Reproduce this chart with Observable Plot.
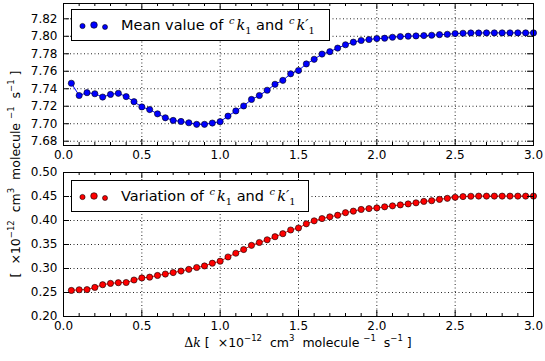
<!DOCTYPE html>
<html><head><meta charset="utf-8">
<script src="https://cdn.jsdelivr.net/npm/d3@7"></script>
<script src="https://cdn.jsdelivr.net/npm/@observablehq/plot@0.6"></script>
<style>
body{margin:0;background:#fff;}
#wrap{position:relative;width:545px;height:361px;font-family:"DejaVu Sans",sans-serif;color:#000;overflow:hidden;}
.abs{position:absolute;white-space:nowrap;}
.leg{position:absolute;border:1px solid #000;background:#fff;box-sizing:border-box;font-size:14.5px;white-space:nowrap;}
.leg svg{position:absolute;left:0;top:0;}
.leg .t{position:absolute;left:49px;top:50%;transform:translateY(-50%);}
.m{font-family:"DejaVu Serif",serif;font-style:italic;}
sup,sub{font-size:68%;line-height:0;font-style:normal;}
sup.i{font-style:italic;margin-right:2px;margin-left:1px;}
.lab{font-size:12.5px;}
</style></head>
<body><div id="wrap"></div>
<script>
const dk = [0.05,0.10,0.15,0.20,0.25,0.30,0.35,0.40,0.45,0.50,
            0.55,0.60,0.65,0.70,0.75,0.80,0.85,0.90,0.95,1.00,
            1.05,1.10,1.15,1.20,1.25,1.30,1.35,1.40,1.45,1.50,
            1.55,1.60,1.65,1.70,1.75,1.80,1.85,1.90,1.95,2.00,
            2.05,2.10,2.15,2.20,2.25,2.30,2.35,2.40,2.45,2.50,
            2.55,2.60,2.65,2.70,2.75,2.80,2.85,2.90,2.95,3.00];
const meanVals = [7.7463,7.7323,7.7355,7.7343,7.7305,7.7335,7.7348,7.7310,7.7252,7.7192,
                  7.7162,7.7113,7.7068,7.7038,7.7026,7.7011,7.6993,7.6993,7.7008,7.7024,
                  7.7087,7.7146,7.7203,7.7278,7.7323,7.7383,7.7451,7.7496,7.7571,7.7609,
                  7.7684,7.7737,7.7797,7.7824,7.7865,7.7903,7.7933,7.7952,7.7963,7.7974,
                  7.7978,7.7989,7.7997,7.8001,7.8004,7.8008,7.8012,7.8019,7.8023,7.8031,
                  7.8035,7.8038,7.8038,7.8039,7.8039,7.8039,7.8039,7.8039,7.8039,7.8039];
const varVals = [0.2543,0.2557,0.2560,0.2606,0.2662,0.2690,0.2704,0.2708,0.2760,0.2803,
                 0.2820,0.2855,0.2884,0.2915,0.2947,0.2982,0.3021,0.3053,0.3110,0.3152,
                 0.3240,0.3318,0.3395,0.3482,0.3542,0.3598,0.3662,0.3725,0.3802,0.3844,
                 0.3931,0.3993,0.4040,0.4076,0.4110,0.4163,0.4195,0.4230,0.4248,0.4262,
                 0.4285,0.4305,0.4325,0.4345,0.4368,0.4398,0.4412,0.4440,0.4462,0.4484,
                 0.4498,0.4505,0.4508,0.4508,0.4508,0.4508,0.4508,0.4508,0.4508,0.4508];
const xTicks = [0.0,0.5,1.0,1.5,2.0,2.5,3.0];
const xMinor = [0.1,0.2,0.3,0.4,0.6,0.7,0.8,0.9,1.1,1.2,1.3,1.4,1.6,1.7,1.8,1.9,2.1,2.2,2.3,2.4,2.6,2.7,2.8,2.9];
const meanTicks = [7.68,7.70,7.72,7.74,7.76,7.78,7.80,7.82];
const varTicks = [0.20,0.25,0.30,0.35,0.40,0.45,0.50];
const meanDomain = [7.6751,7.8375];
const varDomain = [0.20,0.50];
const blue = "#0000ff", red = "#ff0000";

const W = 545, ML = 63, MR = 12;
function panel(vals, yDomain, yTicks, color, height, marginTop, marginBottom) {
  const innerH = height - marginTop - marginBottom, innerW = W - ML - MR;
  const rows = dk.map((x, i) => ({x, y: vals[i]}));
  const grid = {stroke: "#000", strokeOpacity: 0.85, strokeDasharray: "1,2.5", strokeWidth: 1};
  return Plot.plot({
    width: W, height, marginLeft: ML, marginRight: MR, marginTop, marginBottom,
    style: {fontFamily: "DejaVu Sans", fontSize: "12px", background: "white", overflow: "visible", color: "#000"},
    x: {domain: [0, 3]},
    y: {domain: yDomain},
    marks: [
      Plot.gridX(xTicks, grid),
      Plot.gridY(yTicks, grid),
      Plot.line(rows, {x: "x", y: "y", stroke: color, strokeWidth: 1}),
      Plot.dot(rows, {x: "x", y: "y", r: 3.1, fill: color, stroke: "#000", strokeWidth: 0.6}),
      Plot.tickX(xTicks, {x: d => d, insetTop: innerH - 6, stroke: "#000"}),
      Plot.tickX(xTicks, {x: d => d, insetBottom: innerH - 6, stroke: "#000"}),
      Plot.tickX(xMinor, {x: d => d, insetTop: innerH - 3, stroke: "#000"}),
      Plot.tickX(xMinor, {x: d => d, insetBottom: innerH - 3, stroke: "#000"}),
      Plot.tickY(yTicks, {y: d => d, insetRight: innerW - 6, stroke: "#000"}),
      Plot.tickY(yTicks, {y: d => d, insetLeft: innerW - 6, stroke: "#000"}),
      Plot.axisX(xTicks, {tickSize: 0, tickPadding: 5, tickFormat: d3.format(".1f"), label: null}),
      Plot.axisY(yTicks, {tickSize: 0, tickPadding: 6, tickFormat: d3.format(".2f"), label: null}),
      Plot.frame({stroke: "#000", strokeWidth: 1})
    ]
  });
}

const wrap = document.getElementById("wrap");
const top1 = panel(meanVals, meanDomain, meanTicks, blue, 165, 3, 20);
top1.style.position = "absolute"; top1.style.left = "0px"; top1.style.top = "0px";
wrap.appendChild(top1);
const bot = panel(varVals, varDomain, varTicks, red, 196, 7, 45);
bot.style.position = "absolute"; bot.style.left = "0px"; bot.style.top = "165px";
wrap.appendChild(bot);

function legendDots(color) {
  return `<svg width="45" height="31"><g stroke="#000" stroke-width="0.6" fill="${color}">
    <circle cx="10.5" cy="16" r="2.6"/><circle cx="22" cy="15" r="3.3"/><circle cx="33" cy="17" r="2.5"/></g></svg>`;
}
const kk = `<span class="m"><sup class="i">c</sup>k<sub>1</sub></span> and <span class="m"><sup class="i">c</sup>k′<sub>1</sub></span>`;
const l1 = document.createElement("div");
l1.className = "leg";
Object.assign(l1.style, {left: "71px", top: "9px", width: "259px", height: "32px"});
l1.innerHTML = legendDots(blue) + `<span class="t">Mean value of ${kk}</span>`;
wrap.appendChild(l1);
const l2 = document.createElement("div");
l2.className = "leg";
Object.assign(l2.style, {left: "71px", top: "180px", width: "238px", height: "32px"});
l2.innerHTML = legendDots(red) + `<span class="t">Variation of ${kk}</span>`;
wrap.appendChild(l2);

const unit = `[ &nbsp;×10<sup>−12</sup> &nbsp;cm<sup>3</sup> &nbsp;molecule <sup>−1</sup> &nbsp;s<sup>−1</sup> ]`;
const xl = document.createElement("div");
xl.className = "abs lab";
xl.innerHTML = `<span class="m" style="font-style:normal">Δ</span><span class="m">k</span> ${unit}`;
Object.assign(xl.style, {left: "298px", top: "342px", transform: "translate(-50%,-50%)"});
wrap.appendChild(xl);
const yl = document.createElement("div");
yl.className = "abs lab";
yl.innerHTML = unit;
Object.assign(yl.style, {left: "15px", top: "174px", transform: "translate(-50%,-50%) rotate(-90deg)"});
wrap.appendChild(yl);
</script>
</body></html>
